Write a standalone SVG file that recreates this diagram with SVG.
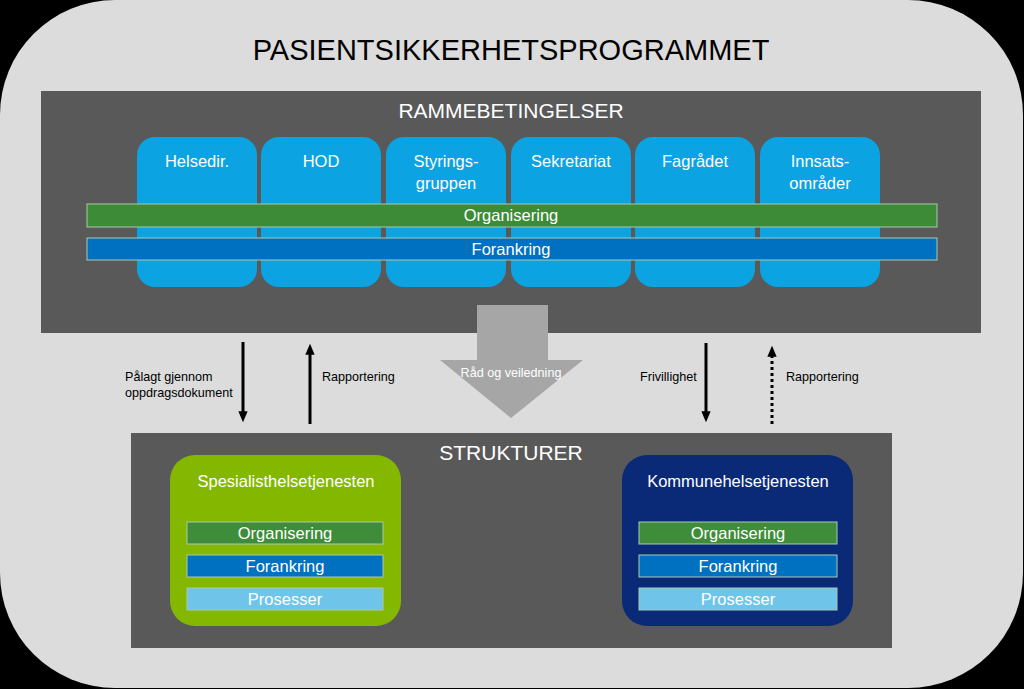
<svg xmlns="http://www.w3.org/2000/svg" width="1024" height="689" viewBox="0 0 1024 689">
<style>
.t{font-family:"Liberation Sans",Arial,sans-serif;fill:#fff;text-anchor:middle}
.b{font-family:"Liberation Sans",Arial,sans-serif;fill:#000}
.card{fill:#0ca3e2}
.bar{stroke:#a9c9b0;stroke-width:1}
</style>
<defs>
<marker id="ah" markerWidth="11" markerHeight="13" refX="2" refY="5.5" orient="auto" markerUnits="userSpaceOnUse" viewBox="0 0 13 11">
<path d="M0,0 L13,5.5 L0,11 z" fill="#000"/>
</marker>
</defs>
<rect x="0" y="0" width="1024" height="689" fill="#000"/>
<rect x="0" y="0" width="1023" height="688" rx="115" ry="115" fill="#dcdcdc"/>
<text class="b" x="511" y="60" font-size="29" text-anchor="middle">PASIENTSIKKERHETSPROGRAMMET</text>

<g id="rammebetingelser">
<rect x="41" y="91" width="940" height="242" fill="#595959"/>
<text class="t" x="511" y="118" font-size="21">RAMMEBETINGELSER</text>
</g>
<g id="helsedir"><rect class="card" x="137" y="137" width="120" height="150" rx="18"/><text class="t" x="197" y="167" font-size="16.5">Helsedir.</text></g>
<g id="hod"><rect class="card" x="261" y="137" width="120" height="150" rx="18"/><text class="t" x="321" y="167" font-size="16.5">HOD</text></g>
<g id="styringsgruppen"><rect class="card" x="386" y="137" width="120" height="150" rx="18"/><text class="t" x="446" y="167" font-size="16.5">Styrings-</text><text class="t" x="446" y="189" font-size="16.5">gruppen</text></g>
<g id="sekretariat"><rect class="card" x="511" y="137" width="120" height="150" rx="18"/><text class="t" x="571" y="167" font-size="16.5">Sekretariat</text></g>
<g id="fagradet"><rect class="card" x="635" y="137" width="120" height="150" rx="18"/><text class="t" x="695" y="167" font-size="16.5">Fagrådet</text></g>
<g id="innsatsomrader"><rect class="card" x="760" y="137" width="120" height="150" rx="18"/><text class="t" x="820" y="167" font-size="16.5">Innsats-</text><text class="t" x="820" y="189" font-size="16.5">områder</text></g>
<g id="organisering-top"><rect class="bar" x="87" y="204" width="850" height="23" fill="#3d8b37"/><text class="t" x="511" y="221" font-size="16.5">Organisering</text></g>
<g id="forankring-top"><rect class="bar" x="87" y="238" width="850" height="22" fill="#0070c0"/><text class="t" x="511" y="255" font-size="16.5">Forankring</text></g>

<g id="rad-og-veiledning">
<path d="M477,305 H548 V360 H583 L511,418 L440,360 H477 Z" fill="#a6a6a6"/>
<text class="t" x="511" y="377" font-size="12.6">Råd og veiledning</text>
</g>

<g id="connectors" stroke="#000" stroke-width="3" fill="none">
<line x1="243" y1="342" x2="243" y2="413" marker-end="url(#ah)"/>
<line x1="310" y1="424" x2="310" y2="353" marker-end="url(#ah)"/>
<line x1="706" y1="343" x2="706" y2="413" marker-end="url(#ah)"/>
<line x1="772" y1="424" x2="772" y2="355" stroke-dasharray="3,3" marker-end="url(#ah)"/>
</g>
<g id="labels" font-size="12.6">
<text class="b" x="125" y="381">Pålagt gjennom</text>
<text class="b" x="125" y="397">oppdragsdokument</text>
<text class="b" x="322" y="381">Rapportering</text>
<text class="b" x="640" y="381">Frivillighet</text>
<text class="b" x="786" y="381">Rapportering</text>
</g>

<g id="strukturer">
<rect x="131" y="433" width="761" height="215" fill="#595959"/>
<text class="t" x="511" y="460" font-size="21">STRUKTURER</text>
</g>
<g id="spesialisthelsetjenesten">
<rect x="170" y="455" width="231" height="171" rx="25" fill="#84b800"/>
<text class="t" x="286" y="487" font-size="16.5">Spesialisthelsetjenesten</text>
<rect class="bar" x="187" y="522" width="196" height="22" fill="#3f8c3a"/><text class="t" x="285" y="539" font-size="16.5">Organisering</text>
<rect class="bar" x="187" y="555" width="196" height="22" fill="#0070c0"/><text class="t" x="285" y="572" font-size="16.5">Forankring</text>
<rect class="bar" x="187" y="588" width="196" height="22" fill="#6fc4ea"/><text class="t" x="285" y="605" font-size="16.5">Prosesser</text>
</g>
<g id="kommunehelsetjenesten">
<rect x="622" y="455" width="231" height="171" rx="25" fill="#0a2a78"/>
<text class="t" x="738" y="487" font-size="16.5">Kommunehelsetjenesten</text>
<rect class="bar" x="639" y="522" width="198" height="22" fill="#3f8c3a"/><text class="t" x="738" y="539" font-size="16.5">Organisering</text>
<rect class="bar" x="639" y="555" width="198" height="22" fill="#0070c0"/><text class="t" x="738" y="572" font-size="16.5">Forankring</text>
<rect class="bar" x="639" y="588" width="198" height="22" fill="#6fc4ea"/><text class="t" x="738" y="605" font-size="16.5">Prosesser</text>
</g>
</svg>
